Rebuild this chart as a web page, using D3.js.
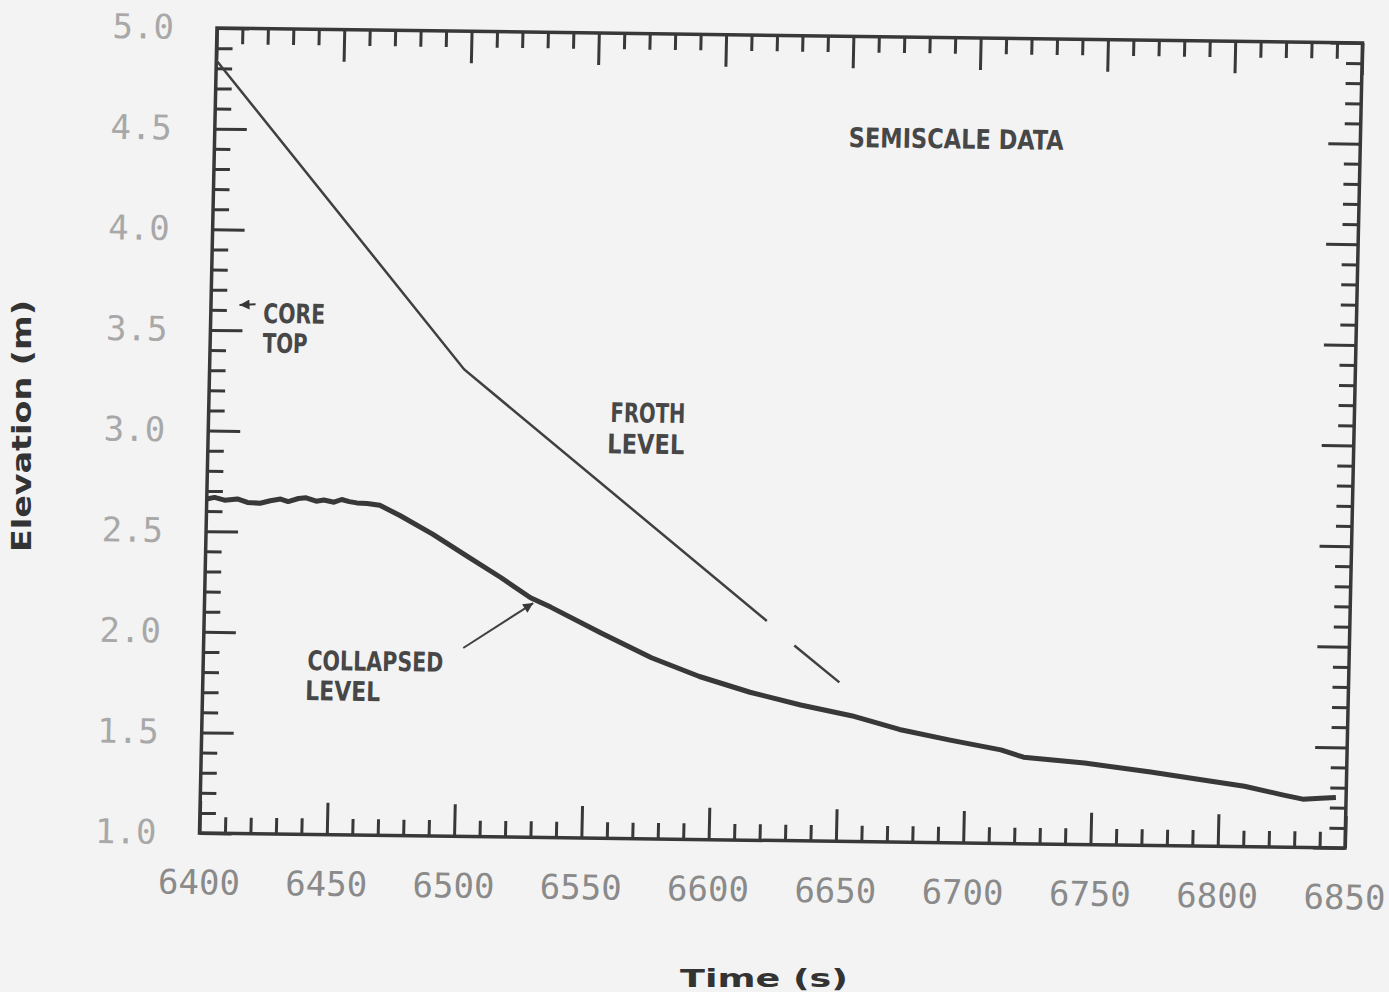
<!DOCTYPE html>
<html>
<head>
<meta charset="utf-8">
<script src="https://cdn.jsdelivr.net/npm/d3@7"></script>
<style>
  body { margin: 0; background: #f3f3f3; }
  svg { display: block; }
</style>
</head>
<body>
<svg id="chart"></svg>
<script>
const WIDTH = 1389
const HEIGHT = 992

// plot box in its own (unskewed) coords; the scan is slightly sheared
const PW = 1145.5
const PH = 805

const xTicks = [6400, 6450, 6500, 6550, 6600, 6650, 6700, 6750, 6800, 6850]
const yTicks = [1.0, 1.5, 2.0, 2.5, 3.0, 3.5, 4.0, 4.5, 5.0]

// froth level (gap between 6621 and 6632 as in the plot)
const frothTime  = [6400, 6500, 6621, 6626, 6632, 6650]
const frothLevel = [4.84, 3.32, 2.09, null, 1.97, 1.79]

// collapsed level
const collapsedTime = [6400, 6403, 6407, 6412, 6416, 6421, 6425, 6429, 6432, 6436, 6439, 6443, 6446, 6450,
  6453, 6456, 6459, 6463, 6468, 6476, 6489, 6503, 6516, 6528, 6536, 6556, 6576, 6595, 6615, 6635,
  6655, 6674, 6694, 6714, 6723, 6747, 6773, 6793, 6810, 6825, 6833, 6840, 6846]
const collapsedLevel = [2.66, 2.668, 2.655, 2.662, 2.645, 2.642, 2.655, 2.664, 2.652, 2.668, 2.672, 2.656, 2.662, 2.652,
  2.666, 2.656, 2.65, 2.648, 2.64, 2.59, 2.50, 2.39, 2.29, 2.19, 2.145, 2.02, 1.90, 1.81, 1.735, 1.675,
  1.625, 1.56, 1.51, 1.465, 1.43, 1.405, 1.365, 1.33, 1.30, 1.26, 1.24, 1.245, 1.25]

const frothData = frothTime.map((t, i) => ({ t, e: frothLevel[i] }))
const collapsedData = collapsedTime.map((t, i) => ({ t, e: collapsedLevel[i] }))

const INK = '#383838'

const svg = d3.select('#chart')
  .attr('width', WIDTH)
  .attr('height', HEIGHT)

svg.append('rect')
  .attr('width', WIDTH)
  .attr('height', HEIGHT)
  .attr('fill', '#f3f3f3')

const x = d3.scaleLinear([6400, 6850], [0, PW])
const y = d3.scaleLinear([1, 5], [PH, 0])

const plot = svg.append('g')
  .attr('transform', `matrix(1, ${15 / PW}, ${-17.5 / PH}, 1, 217, 28)`)

const xMinor = d3.range(6400, 6851, 10).filter(v => v % 50 !== 0)
const yMinor = d3.range(10, 51).filter(v => v % 5 !== 0).map(v => v / 10)

function styleAxis(g) {
  g.select('.domain').remove()
  g.selectAll('.tick line')
    .attr('stroke', INK)
    .attr('stroke-width', 3)
}

// minor ticks, all four sides, pointing inward
plot.append('g').attr('transform', `translate(0,${PH})`)
  .call(d3.axisBottom(x).tickValues(xMinor).tickSize(-16).tickFormat(''))
  .call(styleAxis)
plot.append('g')
  .call(d3.axisTop(x).tickValues(xMinor).tickSize(-16).tickFormat(''))
  .call(styleAxis)
plot.append('g')
  .call(d3.axisLeft(y).tickValues(yMinor).tickSize(-16).tickFormat(''))
  .call(styleAxis)
plot.append('g').attr('transform', `translate(${PW},0)`)
  .call(d3.axisRight(y).tickValues(yMinor).tickSize(-16).tickFormat(''))
  .call(styleAxis)

// major ticks
const bottomAxis = plot.append('g').attr('transform', `translate(0,${PH})`)
  .call(d3.axisBottom(x).tickValues(xTicks).tickSize(-32).tickPadding(37).tickFormat(d3.format('d')))
  .call(styleAxis)
plot.append('g')
  .call(d3.axisTop(x).tickValues(xTicks).tickSize(-32).tickFormat(''))
  .call(styleAxis)
const leftAxis = plot.append('g')
  .call(d3.axisLeft(y).tickValues(yTicks).tickSize(-32).tickPadding(43).tickFormat(d3.format('.1f')))
  .call(styleAxis)
plot.append('g').attr('transform', `translate(${PW},0)`)
  .call(d3.axisRight(y).tickValues(yTicks).tickSize(-32).tickFormat(''))
  .call(styleAxis)

bottomAxis.selectAll('text')
  .attr('font-family', "'DejaVu Sans Mono', 'Liberation Mono', monospace")
  .attr('font-size', 34)
  .attr('fill', '#8a8a8a')

leftAxis.selectAll('text')
  .attr('font-family', "'DejaVu Sans Mono', 'Liberation Mono', monospace")
  .attr('font-size', 34)
  .attr('fill', '#a8a8a8')

// frame
plot.append('rect')
  .attr('width', PW)
  .attr('height', PH)
  .attr('fill', 'none')
  .attr('stroke', INK)
  .attr('stroke-width', 3.5)

const line = d3.line()
  .defined(d => d.e != null)
  .x(d => x(d.t))
  .y(d => y(d.e))

plot.append('path')
  .datum(frothData)
  .attr('d', line)
  .attr('fill', 'none')
  .attr('stroke', '#404040')
  .attr('stroke-width', 2.5)

plot.append('path')
  .datum(collapsedData)
  .attr('d', line)
  .attr('fill', 'none')
  .attr('stroke', INK)
  .attr('stroke-width', 5)
  .attr('stroke-linejoin', 'round')

// annotations
const LABEL_FONT = "'DejaVu Sans Condensed', 'Liberation Sans Narrow', 'DejaVu Sans', sans-serif"

function label(text, t, e, len) {
  plot.append('text')
    .attr('x', x(t))
    .attr('y', y(e))
    .attr('font-family', LABEL_FONT)
    .attr('font-weight', 'bold')
    .attr('font-size', 27)
    .attr('fill', '#474747')
    .attr('textLength', len)
    .attr('lengthAdjust', 'spacingAndGlyphs')
    .text(text)
}

label('SEMISCALE DATA', 6649, 4.45, 215)
label('CORE', 6420.6, 3.538, 62)
label('TOP', 6420.6, 3.39, 45)
label('FROTH', 6557.8, 3.068, 75)
label('LEVEL', 6556.8, 2.913, 77)
label('COLLAPSED', 6440.9, 1.817, 136)
label('LEVEL', 6440.3, 1.667, 75)

svg.append('defs').append('marker')
  .attr('id', 'head')
  .attr('viewBox', '0 0 10 10')
  .attr('refX', 10)
  .attr('refY', 5)
  .attr('markerWidth', 14)
  .attr('markerHeight', 10)
  .attr('markerUnits', 'userSpaceOnUse')
  .attr('orient', 'auto')
  .append('path')
  .attr('d', 'M0,0 L10,5 L0,10 Z')
  .attr('fill', INK)

// arrow to collapsed level
plot.append('line')
  .attr('x1', x(6502)).attr('y1', y(1.936))
  .attr('x2', x(6529.1)).attr('y2', y(2.164))
  .attr('stroke', '#404040')
  .attr('stroke-width', 2)
  .attr('marker-end', 'url(#head)')

// core top arrow
plot.append('line')
  .attr('x1', x(6417.5)).attr('y1', y(3.63))
  .attr('x2', x(6411.2)).attr('y2', y(3.626))
  .attr('stroke', INK)
  .attr('stroke-width', 2)
  .attr('marker-end', 'url(#head)')

// axis titles
svg.append('text')
  .attr('transform', 'translate(31,426) rotate(-90)')
  .attr('text-anchor', 'middle')
  .attr('font-family', "'DejaVu Sans', sans-serif")
  .attr('font-weight', 'bold')
  .attr('font-size', 26)
  .attr('fill', '#333')
  .attr('textLength', 252)
  .attr('lengthAdjust', 'spacingAndGlyphs')
  .text('Elevation (m)')

svg.append('text')
  .attr('x', 764)
  .attr('y', 987)
  .attr('text-anchor', 'middle')
  .attr('font-family', "'DejaVu Sans', sans-serif")
  .attr('font-weight', 'bold')
  .attr('font-size', 25)
  .attr('fill', '#333')
  .attr('textLength', 168)
  .attr('lengthAdjust', 'spacingAndGlyphs')
  .text('Time (s)')
</script>
</body>
</html>
